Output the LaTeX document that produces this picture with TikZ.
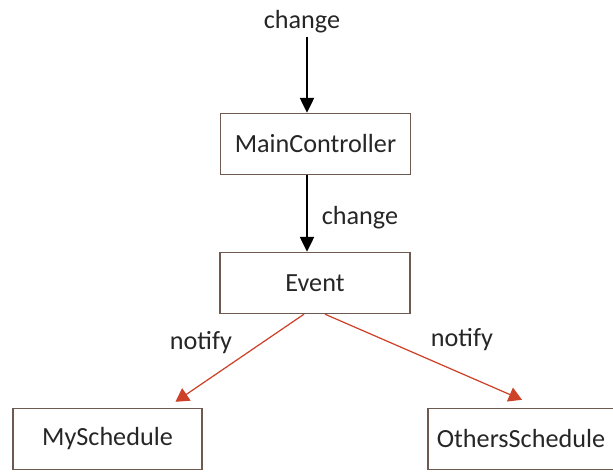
\documentclass[tikz,border=0pt]{standalone}
\usepackage{fontspec}
\setmainfont{Carlito}
\usetikzlibrary{arrows.meta,calc}
\definecolor{boxline}{HTML}{6E5A50}
\definecolor{notered}{HTML}{CC4128}
\begin{document}
\begin{tikzpicture}[x=0.02cm, y=-0.02cm,
    every node/.style={font=\fontsize{14.9}{17}\selectfont, text=black!85},
    cls/.style={draw=boxline, line width=0.8pt, minimum width=3.8cm, minimum height=1.22cm, inner sep=0pt},
    blk/.style={line width=1.1pt, -{Triangle[width=8pt,length=8.5pt]}},
    note/.style={draw=notered, line width=0.7pt, -{Triangle[width=8.5pt,length=7.5pt]}}]
  \useasboundingbox (0,0) rectangle (613,472);
  \node (c1) at (302,22) {change};
  \node[cls] (mc) at (315.5,144) {MainController};
  \node (c2) at (360,218) {change};
  \node[cls] (ev) at (315,283) {Event};
  \node[cls, minimum width=3.78cm] (ms) at (107.5,439) {MySchedule};
  \node[cls, minimum width=3.72cm] (os) at (521,439) {OthersSchedule};
  \node (n1) at (201,343) {notify};
  \node (n2) at (462,340) {notify};
  \coordinate (t0) at (307,37);
  \draw[blk] (t0) -- (t0 |- mc.north);
  \draw[blk] (t0 |- mc.south) -- (t0 |- ev.north);
  \draw[note] ($(ev.south)+(-11,0)$) -- ($(ms.north)+(68,-6)$);
  \draw[note] ($(ev.south)+(10,0)$) -- ($(os.north)+(1,-8)$);
\end{tikzpicture}
\end{document}
